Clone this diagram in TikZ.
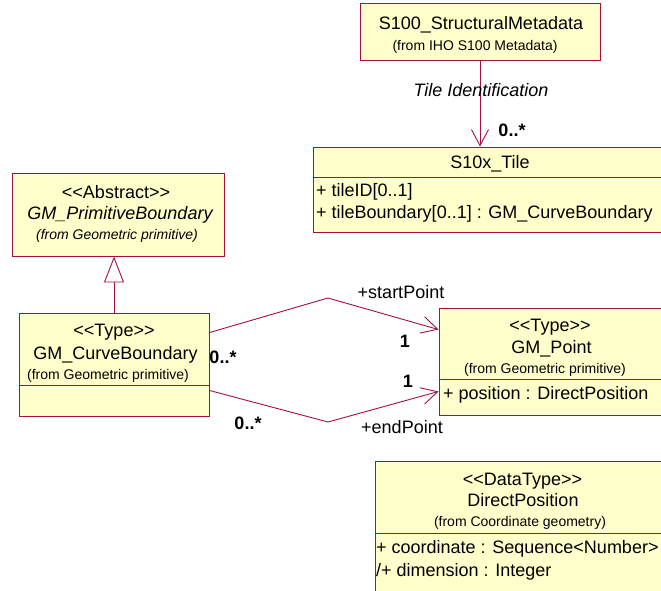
\documentclass[tikz,border=0pt]{standalone}
\usepackage{fontspec}
\setmainfont{Liberation Sans}
\usetikzlibrary{arrows.meta,calc}
\definecolor{umlline}{RGB}{165,15,70}
\definecolor{umlfill}{RGB}{255,255,204}
\tikzset{
  classbox/.style={draw=umlline, fill=umlfill, line width=0.9pt, inner sep=0pt, minimum width=#1},
  classbox/.default=100pt,
  sepline/.style={draw=umlline, line width=0.9pt},
  txt/.style={inner sep=0pt, font=\fontsize{18}{20}\selectfont},
  smalltxt/.style={inner sep=0pt, font=\fontsize{14}{16}\selectfont},
  mult/.style={inner sep=0pt, font=\fontsize{18}{20}\selectfont\bfseries},
  assoc/.style={draw=umlline, line width=0.9pt},
  navarrow/.style={-{Straight Barb[length=16pt,width=17pt,line width=0.9pt]}},
  genarrow/.style={-{Triangle[length=26pt,width=20pt,fill=white,line width=0.9pt]}},
}
\begin{document}
\begin{tikzpicture}[x=1pt,y=-1pt]
\useasboundingbox (0,0) rectangle (661,590);
\clip (0,0) rectangle (661,590);

% class rectangles
\node[classbox=240pt, minimum height=57pt] (meta) at (480,31.5) {};
\node[classbox=367pt, minimum height=85pt] (tile) at (496.5,189.5) {};
\node[classbox=212pt, minimum height=83pt] (prim) at (118,214.5) {};
\node[classbox=190pt, minimum height=103pt] (cb) at (114,364.5) {};
\node[classbox=241pt, minimum height=107pt] (pt) at (559.5,361.5) {};
\node[classbox=305pt, minimum height=150pt] (dp) at (527.5,536) {};

% compartment separators
\draw[sepline] (tile.west |- 0,177) -- (tile.east |- 0,177);
\draw[sepline] (cb.west |- 0,385) -- (cb.east |- 0,385);
\draw[sepline] (pt.west |- 0,379) -- (pt.east |- 0,379);
\draw[sepline] (dp.west |- 0,533) -- (dp.east |- 0,533);

% S100_StructuralMetadata
\node[txt] (metaname) at (481,24.5) {S100\_StructuralMetadata};
\node[smalltxt] (metapkg) at (475,47) {(from IHO S100 Metadata)};

% S10x_Tile
\node[txt] (tilename) at (490,164) {S10x\_Tile};
\node[txt, anchor=west] (tileattr1) at (316,192) {+ tileID[0..1]};
\node[txt, anchor=west] (tileattr2) at (316,214) {+ tileBoundary[0..1] : GM\_CurveBoundary};

% GM_PrimitiveBoundary
\node[txt] (primst) at (116,192) {<{}<Abstract>{}>};
\node[txt, font=\fontsize{18}{20}\selectfont\itshape] (primname) at (120,215) {GM\_PrimitiveBoundary};
\node[smalltxt, font=\fontsize{14}{16}\selectfont\itshape] (primpkg) at (117,236) {(from Geometric primitive)};

% GM_CurveBoundary
\node[txt] (cbst) at (114,332) {<{}<Type>{}>};
\node[txt] (cbname) at (115.5,355) {GM\_CurveBoundary};
\node[smalltxt] (cbpkg) at (108,376) {(from Geometric primitive)};

% GM_Point
\node[txt] (ptst) at (550,327) {<{}<Type>{}>};
\node[txt] (ptname) at (551.5,348.5) {GM\_Point};
\node[smalltxt] (ptpkg) at (545,369.5) {(from Geometric primitive)};
\node[txt, anchor=west] (ptattr) at (443,395) {+ position : DirectPosition};

% DirectPosition
\node[txt] (dpst) at (522.5,481) {<{}<DataType>{}>};
\node[txt] (dpname) at (523,500) {DirectPosition};
\node[smalltxt] (dppkg) at (520,523) {(from Coordinate geometry)};
\node[txt, anchor=west] (dpattr1) at (376,549) {+ coordinate : Sequence<Number>};
\node[txt, anchor=west] (dpattr2) at (376,572) {/+ dimension : Integer};

% Tile Identification association
\draw[assoc, navarrow] (meta.south) -- (meta.south |- tile.north);
\node[txt, font=\fontsize{18}{20}\selectfont\itshape] (tilerole) at (481,90) {Tile Identification};
\node[mult] (tilemult) at (512,130) {0..*};

% generalization
\draw[assoc, genarrow] (cb.north) -- (cb.north |- prim.south);

% startPoint / endPoint associations
\coordinate (sbend) at (328,298);
\coordinate (ebend) at (328,422);
\draw[assoc, navarrow] ($(cb.north east)+(0,20)$) -- (sbend) -- ($(pt.north west)+(0,22)$);
\draw[assoc, navarrow] ($(cb.south east)+(0,-26)$) -- (ebend) -- ($(pt.south west)+(0,-24)$);
\node[txt] (startrole) at (401,292) {+startPoint};
\node[txt] (endrole) at (402,427) {+endPoint};
\node[mult] (startmult) at (405,341) {1};
\node[mult] (endmult) at (408,381) {1};
\node[mult] (cbmult1) at (223,357) {0..*};
\node[mult] (cbmult2) at (248,423) {0..*};
\end{tikzpicture}
\end{document}
